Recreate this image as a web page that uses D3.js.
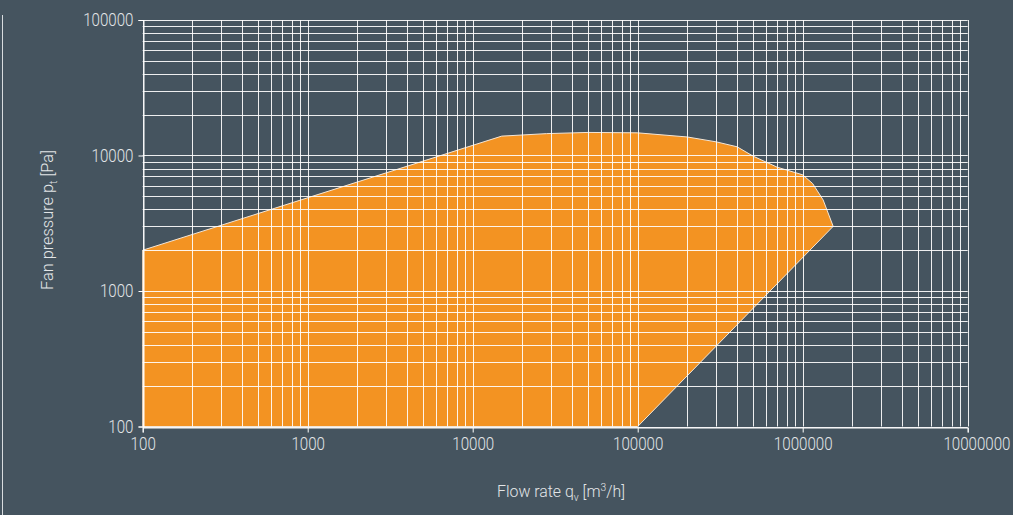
<!DOCTYPE html>
<html><head><meta charset="utf-8">
<script src="https://cdn.jsdelivr.net/npm/d3@7"></script>
<style>
html,body{margin:0;padding:0;background:#45545f;}
svg{display:block;}
text{font-family:Roboto,"Liberation Sans",sans-serif;font-weight:300;fill:#e2e5e7;}
</style></head>
<body><svg id="c" width="1013" height="515"></svg>
<script>
// Operating range envelope (flow rate m3/h, fan pressure Pa)
const flowRate = [100, 15000, 28000, 50000, 100000, 200000, 300000, 400000, 500000, 700000, 1000000, 1150000, 1330000, 1530000, 100000, 100];
const fanPressure = [2000, 13900, 14500, 14800, 14700, 13700, 12600, 11600, 9900, 8200, 7200, 6200, 4700, 3000, 100, 100];
const xTickLabels = [100, 1000, 10000, 100000, 1000000, 10000000];
const yTickLabels = [100, 1000, 10000, 100000];

const W = 1013, H = 515;
const svg = d3.select("#c");
svg.append("rect").attr("width", W).attr("height", H).attr("fill", "#45545f");

const x = d3.scaleLog().domain([100, 1e7]).range([142.7, 967.7]);
const y = d3.scaleLog().domain([100, 1e5]).range([426.5, 20]);

// decorative left rule
svg.append("line").attr("x1", 2.5).attr("x2", 2.5).attr("y1", 15).attr("y2", H)
  .attr("stroke", "#d8dcdf").attr("stroke-width", 1);

// envelope area
const pts = flowRate.map((f, i) => [f, fanPressure[i]]);
svg.append("path")
  .attr("d", d3.line().x(d => x(d[0])).y(d => y(d[1]))(pts) + "Z")
  .attr("fill", "#f39322").attr("stroke", "#f4e6d6").attr("stroke-width", 1);

// grid
function gridVals(lo, hi) {
  const v = [];
  for (let d = lo; d < hi; d *= 10) for (let k = 1; k <= 9; k++) v.push(k * d);
  v.push(hi);
  return v;
}
const gx = gridVals(100, 1e7), gy = gridVals(100, 1e5);
const grid = svg.append("g").attr("stroke", "#ffffff").attr("stroke-opacity", 0.9).attr("stroke-width", 1);
grid.selectAll("line.v").data(gx).join("line").attr("class", "v")
  .attr("x1", d => Math.round(x(d)) + 0.5).attr("x2", d => Math.round(x(d)) + 0.5)
  .attr("y1", y(1e5)).attr("y2", y(100));
grid.selectAll("line.h").data(gy).join("line").attr("class", "h")
  .attr("y1", d => Math.round(y(d)) + 0.5).attr("y2", d => Math.round(y(d)) + 0.5)
  .attr("x1", x(100)).attr("x2", x(1e7));

// axes
const fmt = d3.format("d");
const xAxis = d3.axisBottom(x).tickValues(xTickLabels).tickFormat(fmt).tickSize(5).tickPadding(5);
const yAxis = d3.axisLeft(y).tickValues(yTickLabels).tickFormat(fmt).tickSize(5).tickPadding(5);
const gxA = svg.append("g").attr("transform", `translate(0,${Math.round(y(100)) + 0.5})`).call(xAxis);
const gyA = svg.append("g").attr("transform", `translate(${Math.round(x(100)) + 0.5},0)`).call(yAxis);
[gxA, gyA].forEach(g => {
  g.select(".domain").attr("stroke", "#ffffff");
  g.selectAll(".tick line").attr("stroke", "#ffffff");
  g.selectAll(".tick text").attr("fill", "#e2e5e7").style("font-size", "18px")
    .style("font-family", "Roboto, sans-serif").style("font-weight", 300)
    .each(function () {
      const w = this.getComputedTextLength();
      d3.select(this).attr("textLength", w * 0.84).attr("lengthAdjust", "spacingAndGlyphs");
    });
});
// last x label sits shifted right as in the original
gxA.selectAll(".tick text").filter(d => d === 1e7).attr("text-anchor", "end").attr("x", 1010 - x(1e7));

// axis titles
const xt = svg.append("text").attr("x", 561).attr("y", 497).attr("text-anchor", "middle").style("font-size", "17px")
  .attr("textLength", 128).attr("lengthAdjust", "spacingAndGlyphs");
xt.append("tspan").text("Flow rate q");
xt.append("tspan").text("v").attr("dy", 4).style("font-size", "11px");
xt.append("tspan").text(" [m").attr("dy", -4);
xt.append("tspan").text("3").attr("dy", -6).style("font-size", "11px");
xt.append("tspan").text("/h]").attr("dy", 6);

const yt = svg.append("text").attr("transform", "translate(53,220) rotate(-90)").attr("text-anchor", "middle").style("font-size", "17px")
  .attr("textLength", 140).attr("lengthAdjust", "spacingAndGlyphs");
yt.append("tspan").text("Fan pressure p");
yt.append("tspan").text("t").attr("dy", 4).style("font-size", "11px");
yt.append("tspan").text(" [Pa]").attr("dy", -4);
</script></body></html>
